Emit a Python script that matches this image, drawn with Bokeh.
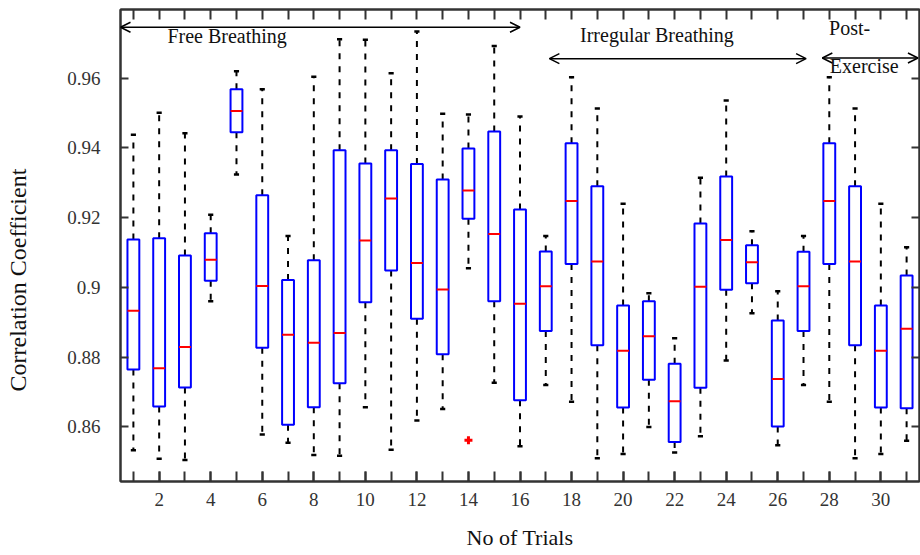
from bokeh.plotting import figure
from bokeh.models import Range1d, FixedTicker, LinearAxis, Arrow, OpenHead, ColumnDataSource, Title
from bokeh.core.properties import value
from bokeh.embed import file_html
from bokeh.resources import INLINE

# ---------------- data ----------------
trials = list(range(1, 32))
upper_whisker = [0.9438, 0.9501, 0.9442, 0.9208, 0.9620, 0.9568, 0.9147, 0.9604, 0.9712, 0.9710,
                 0.9614, 0.9734, 0.9498, 0.9496, 0.9692, 0.9490, 0.9147, 0.9603, 0.9513, 0.9240,
                 0.8983, 0.8854, 0.9314, 0.9536, 0.9161, 0.8989, 0.9147, 0.9603, 0.9513, 0.9240,
                 0.9115]
q3 = [0.9137, 0.9141, 0.9091, 0.9155, 0.9568, 0.9264, 0.9021, 0.9078, 0.9393, 0.9355,
      0.9393, 0.9354, 0.9309, 0.9398, 0.9447, 0.9223, 0.9103, 0.9413, 0.9290, 0.8948,
      0.8960, 0.8781, 0.9183, 0.9318, 0.9121, 0.8905, 0.9102, 0.9413, 0.9290, 0.8948,
      0.9034]
median = [0.8933, 0.8768, 0.8829, 0.9079, 0.9506, 0.9004, 0.8864, 0.8841, 0.8869, 0.9134,
          0.9255, 0.9070, 0.8994, 0.9278, 0.9153, 0.8953, 0.9003, 0.9248, 0.9074, 0.8818,
          0.8860, 0.8673, 0.9002, 0.9136, 0.9072, 0.8737, 0.9003, 0.9248, 0.9074, 0.8818,
          0.8881]
q1 = [0.8764, 0.8658, 0.8713, 0.9019, 0.9445, 0.8827, 0.8606, 0.8656, 0.8725, 0.8957,
      0.9048, 0.8910, 0.8808, 0.9197, 0.8960, 0.8676, 0.8875, 0.9067, 0.8834, 0.8655,
      0.8735, 0.8556, 0.8712, 0.8993, 0.9012, 0.8601, 0.8875, 0.9067, 0.8834, 0.8655,
      0.8653]
lower_whisker = [0.8533, 0.8508, 0.8505, 0.8960, 0.9324, 0.8578, 0.8554, 0.8519, 0.8517, 0.8656,
                 0.8534, 0.8618, 0.8651, 0.9055, 0.8726, 0.8544, 0.8720, 0.8672, 0.8510, 0.8522,
                 0.8599, 0.8526, 0.8573, 0.8790, 0.8926, 0.8547, 0.8720, 0.8672, 0.8510, 0.8522,
                 0.8560]
outlier_trial = [14]
outlier_value = [0.8561]

y_ticks = [0.86, 0.88, 0.90, 0.92, 0.94, 0.96]
y_tick_labels = ["0.86", "0.88", "0.9", "0.92", "0.94", "0.96"]
x_label_trials = [2, 4, 6, 8, 10, 12, 14, 16, 18, 20, 22, 24, 26, 28, 30]

# phase annotations
phase_start = [0.5, 17.14, 27.73]
phase_end = [16.0, 27.1, 31.44]
phase_arrow_y = [0.9746, 0.9656, 0.9658]
phase_text = ["Free Breathing", "Irregular Breathing", "Post-", "Exercise"]
phase_text_x = [2.32, 18.33, 27.99, 28.02]
phase_text_y = [0.9721, 0.9723, 0.9743, 0.9636]

# ---------------- figure ----------------
BOX_W = 0.46
CAP_W = 0.2
SERIF = "Liberation Serif"
AX = "#333333"

p = figure(width=920, height=555, output_backend="svg", toolbar_location=None,
           x_range=Range1d(0.5, 31.5), y_range=Range1d(0.8443, 0.9797),
           min_border_left=120, min_border_right=1, min_border_top=9, min_border_bottom=74)
p.xgrid.visible = False
p.ygrid.visible = False
p.outline_line_color = AX
p.outline_line_width = 2
p.background_fill_color = "white"

src = ColumnDataSource(dict(
    x=trials, up=upper_whisker, q3=q3, med=median, q1=q1, lo=lower_whisker,
    bx0=[t - BOX_W / 2 for t in trials], bx1=[t + BOX_W / 2 for t in trials],
    cx0=[t - CAP_W / 2 for t in trials], cx1=[t + CAP_W / 2 for t in trials],
))

# whiskers
p.segment(x0="x", y0="q3", x1="x", y1="up", source=src, line_color="black",
          line_width=2, line_dash="6 7")
p.segment(x0="x", y0="q1", x1="x", y1="lo", source=src, line_color="black",
          line_width=2, line_dash="6 7")
# caps
p.segment(x0="cx0", y0="up", x1="cx1", y1="up", source=src, line_color="black", line_width=2.5)
p.segment(x0="cx0", y0="lo", x1="cx1", y1="lo", source=src, line_color="black", line_width=2.5)
# boxes
p.vbar(x="x", width=BOX_W, top="q3", bottom="q1", source=src, fill_color=None,
       line_color="#0000FF", line_width=2)
# medians
p.segment(x0="bx0", y0="med", x1="bx1", y1="med", source=src, line_color="#FF0000", line_width=2)
# outlier
p.scatter(outlier_trial, outlier_value, marker="cross", size=8, line_color="#FF0000", line_width=3)

# phase arrows and labels
asrc = ColumnDataSource(dict(xs=phase_start, xe=phase_end, y=phase_arrow_y))
p.add_layout(Arrow(x_start="xs", y_start="y", x_end="xe", y_end="y", source=asrc,
                   line_color="black", line_width=1.5,
                   start=OpenHead(size=10, line_width=1.5, line_color="black"),
                   end=OpenHead(size=10, line_width=1.5, line_color="black")))
p.text(x=phase_text_x, y=phase_text_y, text=phase_text, text_font=value(SERIF),
       text_font_size="20px", text_align="left", text_baseline="middle", text_color="#111111")

# ---------------- axes ----------------
xa = p.xaxis[0]
xa.ticker = FixedTicker(ticks=x_label_trials, minor_ticks=trials)
xa.axis_label = "No of Trials"
ya = p.yaxis[0]
ya.ticker = FixedTicker(ticks=y_ticks, minor_ticks=[])
ya.major_label_overrides = dict(zip(y_ticks, y_tick_labels))

top = LinearAxis(ticker=FixedTicker(ticks=[], minor_ticks=trials))
right = LinearAxis(ticker=FixedTicker(ticks=[], minor_ticks=y_ticks))
p.add_layout(top, "above")
p.add_layout(right, "right")

for ax, tick_len in ((xa, 10), (ya, 8), (top, 10), (right, 8)):
    ax.major_tick_in = tick_len
    ax.major_tick_out = 0
    ax.minor_tick_in = tick_len
    ax.minor_tick_out = 0
    ax.minor_tick_line_color = AX
    ax.minor_tick_line_width = 2
    ax.major_tick_line_color = AX
    ax.major_tick_line_width = 2
    ax.axis_line_color = AX
    ax.axis_line_width = 2
    ax.major_label_text_font = SERIF
    ax.major_label_text_font_size = "19px"
    ax.major_label_text_color = "#333333"
    ax.axis_label_text_font = SERIF
    ax.axis_label_text_font_style = "normal"
    ax.axis_label_text_color = "#111111"

xa.major_label_standoff = 11
xa.axis_label_standoff = 16
xa.axis_label_text_font_size = "22px"
ya.major_label_standoff = 20
top.major_label_standoff = 0
right.major_label_standoff = 0

# spacer between the y tick labels and the y title: white (invisible) ticks, no labels drawn
spacer = LinearAxis(ticker=FixedTicker(ticks=y_ticks, minor_ticks=[]), major_tick_out=34,
                    major_tick_in=0, axis_line_color=None, major_tick_line_color="white",
                    major_tick_line_width=1, minor_tick_line_color=None,
                    major_label_standoff=0, major_label_text_color=None)
p.add_layout(spacer, "left")

ytitle = Title(text="Correlation Coefficient", align="left", offset=90, standoff=0,
               text_font=SERIF, text_font_size="24px", text_font_style="normal",
               text_color="#111111")
p.add_layout(ytitle, "left")

open("out.html", "w").write(file_html(p, INLINE))
